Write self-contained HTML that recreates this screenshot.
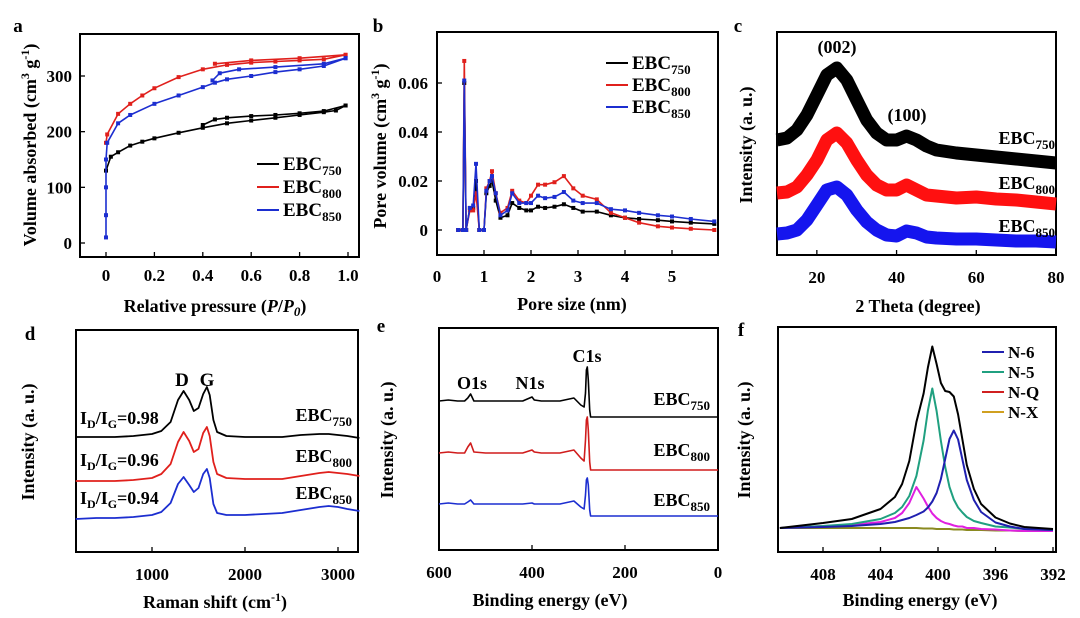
<!DOCTYPE html>
<html><head><meta charset="utf-8"><style>
html,body{margin:0;padding:0;background:#fff;}
svg{display:block;font-family:"Liberation Serif",serif;font-weight:bold;}
</style></head><body>
<svg id="fig" width="1080" height="618" viewBox="0 0 1080 618" xmlns="http://www.w3.org/2000/svg"></svg>
<script>
// ---------- Panel a: N2 isotherms ----------
const aBlackAdsX=[0,0.02,0.05,0.1,0.15,0.2,0.3,0.4,0.5,0.6,0.7,0.8,0.9,0.95,0.99];
const aBlackAdsY=[130,155,163,175,182,188,198,207,215,220,225,230,235,238,247];
const aBlackDesX=[0.99,0.9,0.8,0.7,0.6,0.5,0.45,0.4];
const aBlackDesY=[247,237,233,230,228,225,222,212];
const aRedAdsX=[0,0.005,0.05,0.1,0.15,0.2,0.3,0.4,0.5,0.6,0.7,0.8,0.9,0.99];
const aRedAdsY=[180,195,232,250,265,278,298,312,320,324,326,328,330,338];
const aRedDesX=[0.99,0.8,0.6,0.45];
const aRedDesY=[338,332,328,322];
const aBlueAdsX=[0,0,0,0,0.005,0.05,0.1,0.2,0.3,0.4,0.45,0.5,0.6,0.7,0.8,0.9,0.99];
const aBlueAdsY=[10,50,100,150,180,215,230,250,265,280,288,294,300,307,312,318,332];
const aBlueDesX=[0.99,0.9,0.7,0.55,0.47,0.44];
const aBlueDesY=[332,322,316,312,305,292];
const aXTicks=[0,0.2,0.4,0.6,0.8,1.0];
const aXTickLabels=["0","0.2","0.4","0.6","0.8","1.0"];
const aYTicks=[0,100,200,300];
// ---------- Panel b: pore size distribution ----------
const bX=[0.45,0.55,0.58,0.62,0.7,0.77,0.83,0.9,1.0,1.05,1.12,1.17,1.25,1.35,1.5,1.6,1.75,1.9,2.0,2.15,2.3,2.5,2.7,2.9,3.1,3.4,3.7,4.0,4.3,4.7,5.0,5.4,5.9];
const bBlack=[0,0,0.06,0,0.009,0.009,0.02,0,0,0.015,0.018,0.02,0.012,0.005,0.006,0.011,0.009,0.008,0.008,0.0095,0.009,0.0095,0.0105,0.009,0.0075,0.0075,0.006,0.005,0.0045,0.004,0.0035,0.003,0.0025];
const bRed=[0,0,0.069,0,0.008,0.008,0.015,0,0,0.017,0.02,0.024,0.015,0.007,0.009,0.016,0.012,0.011,0.014,0.0185,0.0185,0.0195,0.022,0.017,0.014,0.0125,0.007,0.005,0.003,0.0015,0.001,0.0005,0];
const bBlue=[0,0,0.061,0,0.009,0.01,0.027,0,0,0.016,0.02,0.022,0.015,0.006,0.008,0.015,0.011,0.011,0.011,0.014,0.013,0.0135,0.0155,0.012,0.011,0.011,0.0085,0.008,0.007,0.006,0.0055,0.0045,0.0035];
const bXTicks=[0,1,2,3,4,5];
const bYTicks=[0,0.02,0.04,0.06];
const bYTickLabels=["0","0.02","0.04","0.06"];
// ---------- Panel c: XRD ----------
const cX=[10,12.5,15,17.5,20,22.5,25,27.5,30,32.5,35,37.5,40,42.5,45,47.5,50,55,60,65,70,75,80];
const cBlack=[115,117,125,140,160,180,187,175,155,135,122,115,115,119,115,109,105,102,100,98,96,94,92];
const cRed=[62,63,68,80,95,115,122,112,95,80,70,65,65,70,65,60,59,57,58,56,55,53,51];
const cBlue=[21,22,25,35,50,65,68,60,45,33,25,20,19,24,22,18,17,16,16,15,14,14,13];
const cXTicks=[20,40,60,80];
// ---------- Panel d: Raman ----------
const dX=[180,400,600,800,1000,1100,1200,1280,1340,1400,1450,1500,1550,1590,1620,1660,1700,1800,2000,2200,2400,2600,2800,2900,3000,3100,3230];
const dBlack=[115,115,115,116,118,121,130,152,161,152,141,144,158,165,157,132,120,116,115,115,115,117,118,118,117,116,114];
const dRed=[71,71,71,72,74,78,88,110,120,111,100,103,119,125,116,90,78,74,73,73,73,76,79,80,79,78,76];
const dBlue=[33,34,34,35,37,40,49,68,75,67,60,64,78,83,74,48,39,37,37,38,39,42,45,46,45,43,41];
const dXTicks=[1000,2000,3000];
// ---------- Panel e: XPS survey ----------
const eX=[600,580,560,545,538,532,525,500,450,420,400,395,380,340,310,295,288,285,283,281,279,276,274,270,200,100,0];
const eBlack=[149,150,149,149,152,156,149,149,149,149,153,150,149,149,152,145,143,157,180,183,170,140,133,133,133,133,133];
const eRed=[97,98,97,97,103,107,98,97,97,97,100,98,97,97,100,92,89,110,130,133,120,88,80,80,80,80,80];
const eBlue=[46,47,46,46,48,50,46,46,46,46,47,46,46,46,49,43,41,55,70,72,65,40,34,34,34,34,34];
const eXTicks=[600,400,200,0];
// ---------- Panel f: N1s ----------
const fX=[411,408,406,404,403,402.5,402,401.5,401,400.7,400.4,400.1,399.8,399.5,399.2,398.9,398.6,398.3,398,397.5,397,396,395,394,392];
const fN6=[0,1,2,4,6,8,10,13,17,21,27,36,50,70,90,99,90,70,50,30,18,8,4,2,1];
const fN5=[0,2,4,9,15,21,32,52,88,118,140,118,88,62,42,30,22,17,13,9,7,4,3,2,1];
const fNQ=[0,2,3,6,10,15,25,41,30,22,15,11,8,6,5,4,3,3,2,2,1,1,0,0,0];
const fNX=[3,3,3,3,3,3,3,3,2.5,2.5,2.5,2,2,2,2,1.5,1.5,1.5,1,1,1,0.5,0.5,0,0];
const fXTicks=[408,404,400,396,392];

const NS="http://www.w3.org/2000/svg";
const svg=document.getElementById('fig');
function el(tag,attrs,parent,text){
  const e=document.createElementNS(NS,tag);
  for(const k in attrs) e.setAttribute(k,attrs[k]);
  if(text!==undefined) e.textContent=text;
  (parent||svg).appendChild(e);
  return e;
}
function lin(d0,d1,r0,r1){return v=>r0+(v-d0)*(r1-r0)/(d1-d0);}
function pathD(xs,ys,sx,sy){let s='';for(let i=0;i<xs.length;i++){s+=(i?'L':'M')+sx(xs[i]).toFixed(1)+','+sy(ys[i]).toFixed(1);}return s;}
function frame(g,x0,y0,x1,y1){
  const r=el('rect',{x:x0,y:y0,width:x1-x0,height:y1-y0,fill:'none',stroke:'#000','stroke-width':2},g);
  
  
}
function tickX(g,sx,vals,labels,y1,ly,size){
  vals.forEach((v,i)=>{
    const x=sx(v);
    el('line',{x1:x,x2:x,y1:y1,y2:y1-5,stroke:'#000','stroke-width':1.3},g);
    const t=el('text',{x:x,y:ly,'text-anchor':'middle','font-size':size||17},g,labels?labels[i]:String(v));
    
    
  });
}
function tickY(g,sy,vals,labels,x0,lx){
  vals.forEach((v,i)=>{
    const y=sy(v);
    el('line',{x1:x0,x2:x0+5,y1:y,y2:y,stroke:'#000','stroke-width':1.3},g);
    if(labels){
      const t=el('text',{x:lx,y:y+6,'text-anchor':'end','font-size':17},g,labels[i]);
      
      
    }
  });
}
function txt(g,x,y,s,size,name,anchor,rot){
  const a={x:x,y:y,'font-size':size,'text-anchor':anchor||'middle'};
  if(rot) a.transform='rotate(-90 '+x+' '+y+')';
  const t=el('text',a,g);
  t.innerHTML=s;
  
  
  return t;
}
function series(g,xs,ys,sx,sy,color,w,name){
  const p=el('path',{d:pathD(xs,ys,sx,sy),fill:'none',stroke:color,'stroke-width':w,'stroke-linejoin':'round'},g);
  
  
  return p;
}
function markers(g,xs,ys,sx,sy,color,name){
  for(let i=0;i<xs.length;i++){
    const m=el('rect',{x:sx(xs[i])-2,y:sy(ys[i])-2,width:4,height:4,fill:color},g);
    
    
  }
}
function legendEntry(g,x,y,color,label,sub,size){
  el('line',{x1:x,x2:x+22,y1:y-6,y2:y-6,stroke:color,'stroke-width':2},g);
  const t=el('text',{x:x+26,y:y,'font-size':size||19},g);
  t.innerHTML=label+(sub?'<tspan font-size="13" dy="5">'+sub+'</tspan>':'');
  
  
}
const EBC=s=>'EBC<tspan font-size="13" dy="5">'+s+'</tspan>';

// ===== Panel a =====
{
  const g=el('g',{});  
  const sx=lin(0,1,106,348), sy=lin(0,300,243,76);
  txt(g,18,32,'a',19,'panel-label');
  frame(g,80,34,359,257);
  tickX(g,sx,aXTicks,aXTickLabels,257,281);
  tickY(g,sy,aYTicks,aYTicks.map(String),80,72);
  txt(g,215,312,'Relative pressure (<tspan font-style="italic">P</tspan>/<tspan font-style="italic">P<tspan font-size="13" dy="4">0</tspan></tspan><tspan dy="-4">)</tspan>',18,'x-axis-title');
  txt(g,36,145,'Volume absorbed (cm<tspan font-size="12" dy="-7">3</tspan><tspan dy="7"> g</tspan><tspan font-size="12" dy="-7">-1</tspan><tspan dy="7">)</tspan>',18,'y-axis-title','middle',true);
  [[aBlackAdsX,aBlackAdsY,'#000'],[aBlackDesX,aBlackDesY,'#000'],[aRedAdsX,aRedAdsY,'#e0201c'],[aRedDesX,aRedDesY,'#e0201c'],[aBlueAdsX,aBlueAdsY,'#1c2ed0'],[aBlueDesX,aBlueDesY,'#1c2ed0']].forEach(s=>{
    series(g,s[0],s[1],sx,sy,s[2],1.6,'isotherm-line');
    markers(g,s[0],s[1],sx,sy,s[2],'isotherm-point');
  });
  legendEntry(g,257,170,'#000','EBC','750');
  legendEntry(g,257,193,'#e0201c','EBC','800');
  legendEntry(g,257,216,'#1c2ed0','EBC','850');
}
// ===== Panel b =====
{
  const g=el('g',{});  
  const sx=lin(0,1,437,484), sy=lin(0,0.06,230,83);
  txt(g,378,32,'b',19,'panel-label');
  frame(g,437,32,718,255);
  tickX(g,sx,bXTicks,null,255,282);
  tickY(g,sy,bYTicks,bYTickLabels,437,428);
  txt(g,572,310,'Pore size (nm)',18,'x-axis-title');
  txt(g,386,146,'Pore volume (cm<tspan font-size="12" dy="-7">3</tspan><tspan dy="7"> g</tspan><tspan font-size="12" dy="-7">-1</tspan><tspan dy="7">)</tspan>',18,'y-axis-title','middle',true);
  [[bBlack,'#000'],[bRed,'#e0201c'],[bBlue,'#1c2ed0']].forEach(s=>{
    series(g,bX,s[0],sx,sy,s[1],1.6,'psd-line');
    markers(g,bX,s[0],sx,sy,s[1],'psd-point');
  });
  legendEntry(g,606,69,'#000','EBC','750');
  legendEntry(g,606,91,'#e0201c','EBC','800');
  legendEntry(g,606,113,'#1c2ed0','EBC','850');
}
// ===== Panel c =====
{
  const g=el('g',{});  
  const sx=lin(10,80,777,1056), sy=lin(0,223,255,32);
  txt(g,738,32,'c',19,'panel-label');
  frame(g,777,32,1056,255);
  tickX(g,sx,cXTicks,null,255,283);
  txt(g,918,312,'2 Theta (degree)',18,'x-axis-title');
  txt(g,752,145,'Intensity (a. u.)',18,'y-axis-title','middle',true);
  [[cBlack,'#000'],[cRed,'#ff1010'],[cBlue,'#1515ee']].forEach(s=>{
    series(g,cX,s[0],sx,sy,s[1],13,'xrd-pattern');
  });
  txt(g,837,53,'(002)',18,'peak-label-002');
  txt(g,907,121,'(100)',18,'peak-label-100');
  txt(g,1055,144,EBC('750'),18,'series-label','end');
  txt(g,1055,189,EBC('800'),18,'series-label','end');
  txt(g,1055,232,EBC('850'),18,'series-label','end');
}
// ===== Panel d =====
{
  const g=el('g',{});  
  const sx=lin(1000,2000,152,245), sy=lin(0,222,552,330);
  txt(g,30,340,'d',19,'panel-label');
  frame(g,76,330,358,552);
  tickX(g,sx,dXTicks,null,552,580);
  txt(g,215,608,'Raman shift (cm<tspan font-size="12" dy="-7">-1</tspan><tspan dy="7">)</tspan>',18,'x-axis-title');
  txt(g,34,442,'Intensity (a. u.)',18,'y-axis-title','middle',true);
  [[dBlack,'#000'],[dRed,'#e0201c'],[dBlue,'#1c2ed0']].forEach(s=>{
    series(g,dX,s[0],sx,sy,s[1],1.8,'raman-spectrum');
  });
  txt(g,182,386,'D',19,'peak-label-d');
  txt(g,207,386,'G',19,'peak-label-g');
  const idig=v=>'I<tspan font-size="12" dy="4">D</tspan><tspan dy="-4">/I</tspan><tspan font-size="12" dy="4">G</tspan><tspan dy="-4">='+v+'</tspan>';
  txt(g,80,424,idig('0.98'),18,'ratio-label','start');
  txt(g,80,466,idig('0.96'),18,'ratio-label','start');
  txt(g,80,504,idig('0.94'),18,'ratio-label','start');
  txt(g,352,421,EBC('750'),18,'series-label','end');
  txt(g,352,462,EBC('800'),18,'series-label','end');
  txt(g,352,499,EBC('850'),18,'series-label','end');
}
// ===== Panel e =====
{
  const g=el('g',{});  
  const sx=lin(600,0,439,718), sy=lin(0,222,550,328);
  txt(g,381,332,'e',19,'panel-label');
  frame(g,439,328,718,550);
  tickX(g,sx,eXTicks,null,550,578);
  txt(g,550,606,'Binding energy (eV)',18,'x-axis-title');
  txt(g,393,440,'Intensity (a. u.)',18,'y-axis-title','middle',true);
  [[eBlack,'#000'],[eRed,'#d01c1c'],[eBlue,'#1c2ed0']].forEach(s=>{
    series(g,eX,s[0],sx,sy,s[1],1.6,'xps-survey');
  });
  txt(g,472,389,'O1s',18,'peak-label-o1s');
  txt(g,530,389,'N1s',18,'peak-label-n1s');
  txt(g,587,362,'C1s',18,'peak-label-c1s');
  txt(g,710,405,EBC('750'),18,'series-label','end');
  txt(g,710,456,EBC('800'),18,'series-label','end');
  txt(g,710,506,EBC('850'),18,'series-label','end');
}
// ===== Panel f =====
{
  const g=el('g',{});  
  const sx=lin(408,392,823,1053), sy=lin(0,100,531,431);
  txt(g,741,336,'f',19,'panel-label');
  frame(g,778,327,1056,552);
  tickX(g,sx,fXTicks,null,552,580);
  txt(g,920,606,'Binding energy (eV)',18,'x-axis-title');
  txt(g,750,440,'Intensity (a. u.)',18,'y-axis-title','middle',true);
  const add=(a,b)=>a.map((v,i)=>v+b[i]);
  const env=fX.map((_,i)=>fN6[i]+fN5[i]+fNQ[i]+fNX[i]);
  series(g,fX,fNX,sx,sy,'#8a8a20',2,'n-x-component');
  series(g,fX,add(fNQ,fNX),sx,sy,'#e020e0',2,'n-q-component');
  series(g,fX,add(fN5,fNX),sx,sy,'#20a080',2,'n-5-component');
  series(g,fX,add(fN6,fNX),sx,sy,'#2020b0',2,'n-6-component');
  series(g,fX,env,sx,sy,'#000',2,'envelope');
  legendEntry(g,982,358,'#2020b0','N-6','',17);
  legendEntry(g,982,378,'#20a080','N-5','',17);
  legendEntry(g,982,398,'#d02020','N-Q','',17);
  legendEntry(g,982,418,'#d0a020','N-X','',17);
}
</script>
</body></html>
